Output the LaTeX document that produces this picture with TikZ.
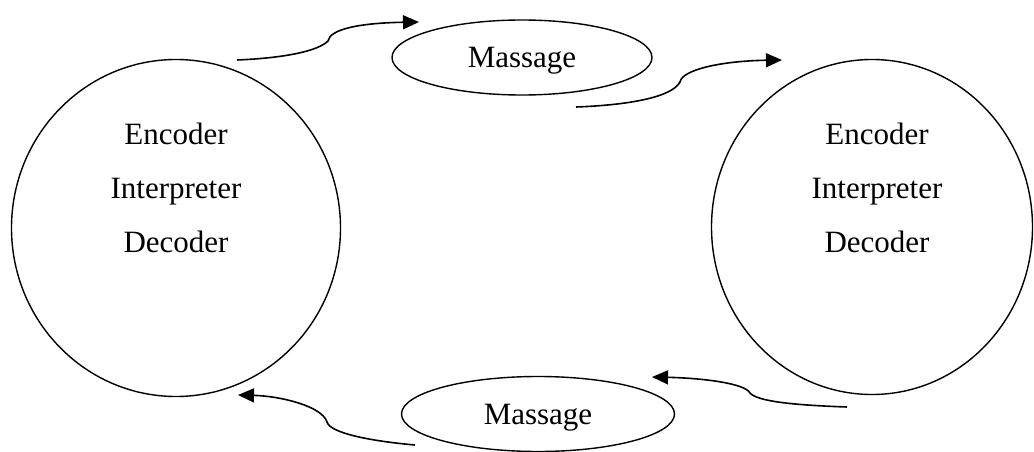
\documentclass[tikz,border=0pt]{standalone}
\usepackage{fontspec}
\setmainfont{Liberation Serif}
\usetikzlibrary{%
  shapes.geometric,%
  arrows.meta%
}

\begin{document}
\begin{tikzpicture}[x=1pt,y=1pt,
  every node/.style={font=\fontsize{31}{54}\selectfont,inner sep=0pt},
  party/.style={ellipse,draw,line width=1.4pt,minimum width=329pt,minimum height=337pt},
  msg/.style={ellipse,draw,line width=1.4pt,minimum height=75pt,text depth=0pt},
  flow/.style={line width=1.6pt,-{Triangle[length=16pt,width=14pt]}}]
\useasboundingbox (0,0) rectangle (1034,451);

\node[party] (L) at (176,223) {};
\node[party,minimum width=321pt,minimum height=335pt] (R) at (872,224) {};
\node[align=center] (Lt) at ([yshift=40pt]L.center) {Encoder\\Interpreter\\Decoder};
\node[align=center] (Rt) at ([xshift=5pt,yshift=39pt]R.center) {Encoder\\Interpreter\\Decoder};
\node[msg,minimum width=260pt] (M) at (522,393.5) {Massage};
\node[msg,minimum width=273pt] (M') at (538,37) {Massage};
%
\coordinate (a) at (237,391);
\coordinate (a') at (328,410);
\coordinate (a'') at (419,429);
\coordinate (b) at (576,344);
\coordinate (b') at (680,369);
\coordinate (b'') at (782,391);
\coordinate (c) at (847,44);
\coordinate (c') at (750,58);
\coordinate (c'') at (652,74);
\coordinate (d) at (415,6);
\coordinate (d') at (327,29);
\coordinate (d'') at (238,56);
%
\draw[flow] (a) .. controls (285,393) and (318,400) .. (a')
                .. controls (330,422) and (360,428) .. (a'');
\draw[flow] (b) .. controls (630,346) and (672,354) .. (b')
                .. controls (682,381) and (720,390) .. (b'');
\draw[flow] (c) .. controls (790,46) and (757,50) .. (c')
                .. controls (745,68) and (700,73) .. (c'');
\draw[flow] (d) .. controls (370,10) and (330,18) .. (d')
                .. controls (322,45) and (280,55) .. (d'');
\end{tikzpicture}
\end{document}
